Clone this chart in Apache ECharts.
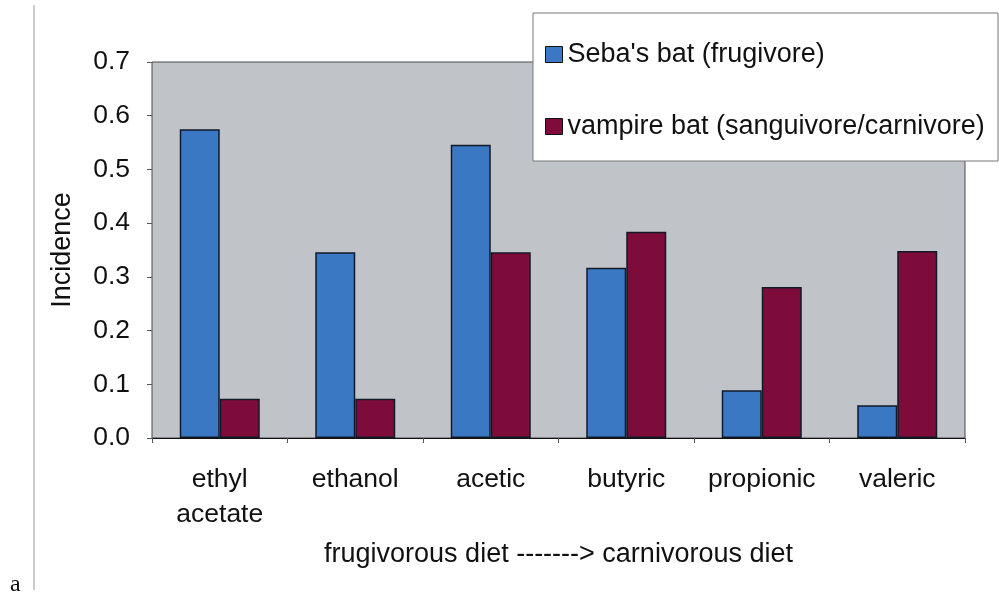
<!DOCTYPE html>
<html>
<head>
<meta charset="utf-8">
<script src="https://cdn.jsdelivr.net/npm/echarts@6/dist/echarts.min.js"></script>
<style>
  html, body { margin: 0; padding: 0; background: #fff; }
  #chart { width: 999px; height: 596px; }
</style>
</head>
<body>
<div id="chart"></div>
<script>
// categories along the diet gradient
const categories = ['ethyl\nacetate', 'ethanol', 'acetic', 'butyric', 'propionic', 'valeric'];
const sebaBat = [0.575, 0.346, 0.546, 0.317, 0.089, 0.061];
const vampireBat = [0.073, 0.073, 0.346, 0.384, 0.281, 0.348];
const yTicks = [0, 0.1, 0.2, 0.3, 0.4, 0.5, 0.6, 0.7];

const font = 'Liberation Sans, Arial, sans-serif';

const chart = echarts.init(document.getElementById('chart'), null, { renderer: 'canvas' });

const option = {
  animation: false,
  backgroundColor: '#fff',
  grid: {
    left: 152, top: 62, right: 34, bottom: 158,
    show: true,
    backgroundColor: '#c0c3c7',
    borderColor: '#4a4a4a',
    borderWidth: 1
  },
  legend: {
    orient: 'vertical',
    left: 540,
    top: 36,
    z: 20,
    itemWidth: 17,
    itemHeight: 16,
    itemGap: 45,
    icon: 'rect',
    textStyle: { fontFamily: font, fontSize: 27, color: '#111', lineHeight: 27 },
    data: [
      { name: "Seba's bat (frugivore)", itemStyle: { borderColor: '#111', borderWidth: 1 } },
      { name: 'vampire bat (sanguivore/carnivore)', itemStyle: { borderColor: '#111', borderWidth: 1 } }
    ]
  },
  xAxis: {
    type: 'category',
    data: categories,
    name: 'frugivorous diet -------> carnivorous diet',
    nameLocation: 'middle',
    nameGap: 103,
    nameTextStyle: { fontFamily: font, fontSize: 27, color: '#111' },
    axisLine: { lineStyle: { color: '#111', width: 1 } },
    axisTick: { show: true, interval: 0, length: 5, lineStyle: { color: '#555' } },
    axisLabel: { interval: 0, fontFamily: font, fontSize: 26.5, color: '#111', lineHeight: 35, margin: 24 }
  },
  yAxis: {
    type: 'value',
    min: 0,
    max: 0.7,
    interval: 0.1,
    name: 'Incidence',
    nameLocation: 'middle',
    nameGap: 76,
    nameTextStyle: { fontFamily: font, fontSize: 27, color: '#111' },
    axisLine: { show: false },
    axisTick: { show: true, length: 5, lineStyle: { color: '#555' } },
    splitLine: { show: false },
    axisLabel: {
      fontFamily: font, fontSize: 26.5, color: '#111', margin: 22,
      formatter: v => yTicks.includes(Math.round(v * 10) / 10) ? v.toFixed(1) : ''
    }
  },
  series: [
    {
      name: "Seba's bat (frugivore)",
      type: 'bar',
      data: sebaBat,
      barWidth: 40,
      barGap: '0%',
      itemStyle: { color: '#3a78c3', borderColor: '#121a2a', borderWidth: 1.5 }
    },
    {
      name: 'vampire bat (sanguivore/carnivore)',
      type: 'bar',
      data: vampireBat,
      barWidth: 40,
      itemStyle: { color: '#7e0c3a', borderColor: '#121a2a', borderWidth: 1.5 }
    }
  ],
  graphic: [
    {
      type: 'rect', z: 10,
      shape: { x: 533, y: 13, width: 465, height: 148 },
      style: { fill: '#fff', stroke: '#777', lineWidth: 1 }
    },
    {
      type: 'line', z: 10,
      shape: { x1: 34, y1: 5, x2: 34, y2: 590 },
      style: { stroke: '#999', lineWidth: 1 }
    },
    {
      type: 'text', z: 10, left: 10, top: 573,
      style: { text: 'a', fontFamily: 'Liberation Serif, serif', fontSize: 24, fill: '#111' }
    }
  ]
};

chart.setOption(option);
</script>
</body>
</html>
